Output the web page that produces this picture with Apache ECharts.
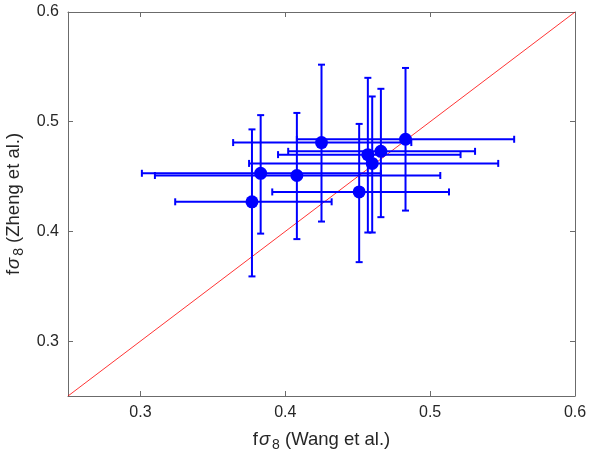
<!DOCTYPE html>
<html>
<head>
<meta charset="utf-8">
<script src="https://cdn.jsdelivr.net/npm/echarts@6/dist/echarts.min.js"></script>
<style>html,body{margin:0;padding:0;background:#fff}#c{width:589px;height:450px}</style>
</head>
<body>
<div id="c"></div>
<script>
// Wang et al. fσ8 (x) with horizontal error range
var wang    = [0.377, 0.383, 0.408, 0.425, 0.451, 0.457, 0.460, 0.466, 0.483];
var wangLo  = [0.324, 0.301, 0.310, 0.364, 0.391, 0.395, 0.375, 0.402, 0.408];
var wangHi  = [0.432, 0.466, 0.507, 0.487, 0.513, 0.521, 0.547, 0.531, 0.558];
// Zheng et al. fσ8 (y) with vertical error range
var zheng   = [0.427, 0.453, 0.451, 0.481, 0.436, 0.470, 0.462, 0.473, 0.484];
var zhengLo = [0.359, 0.398, 0.393, 0.409, 0.372, 0.399, 0.399, 0.413, 0.419];
var zhengHi = [0.493, 0.506, 0.508, 0.552, 0.498, 0.540, 0.523, 0.530, 0.549];
var tickValues = [0.3, 0.4, 0.5, 0.6];
var axisRange = [0.25, 0.6];

var errData = wang.map(function (w, i) {
  return [w, zheng[i], wangLo[i], wangHi[i], zhengLo[i], zhengHi[i]];
});
var dotData = wang.map(function (w, i) { return [w, zheng[i]]; });

var blue = '#0000ff';
var frame = '#6b6b6b';
var font = 'Liberation Sans, Arial, Helvetica, sans-serif';

function axisCommon(showLabel, pos) {
  return {
    type: 'value', min: axisRange[0], max: axisRange[1], position: pos,
    axisLine: { show: true, onZero: false, lineStyle: { color: frame, width: 1 } },
    axisTick: { show: true, inside: true, length: 5, customValues: tickValues, lineStyle: { color: frame } },
    axisLabel: { show: showLabel, customValues: tickValues, color: '#262626', fontSize: 16, fontFamily: font,
      formatter: function (v) { return v.toFixed(1); } },
    splitLine: { show: false }
  };
}

var nameRich = {
  n: { fontSize: 18.5, fontFamily: font, color: '#262626' },
  s: { fontSize: 18.5, fontFamily: font, fontStyle: 'italic', color: '#262626', padding: [0, 2, 0, 1] },
  sub: { fontSize: 14, fontFamily: font, color: '#262626', verticalAlign: 'bottom', padding: [10, 0, 0, 0] }
};

var xMain = axisCommon(true, 'bottom');
xMain.name = '{n|f}{s|σ}{sub|8}{n| (Wang et al.)}';
xMain.nameLocation = 'middle';
xMain.nameGap = 32;
xMain.nameTextStyle = { rich: nameRich };
xMain.axisLabel.margin = 9;
var xTop = axisCommon(false, 'top');

var yMain = axisCommon(true, 'left');
yMain.name = '{n|f}{s|σ}{sub|8}{n| (Zheng et al.)}';
yMain.nameLocation = 'middle';
yMain.nameGap = 33;
yMain.nameRotate = 90;
yMain.nameTextStyle = { rich: nameRich };
yMain.axisLabel.margin = 9;
var yRight = axisCommon(false, 'right');

var chart = echarts.init(document.getElementById('c'));
chart.setOption({
  animation: false,
  backgroundColor: '#fff',
  grid: { left: 68, right: 14, top: 12, bottom: 54, containLabel: false, outerBoundsMode: 'none' },
  xAxis: [xMain, xTop],
  yAxis: [yMain, yRight],
  series: [
    {
      type: 'line', data: [[axisRange[0], axisRange[0]], [axisRange[1], axisRange[1]]],
      symbol: 'none', lineStyle: { color: '#ff0000', width: 0.8 }, z: 1, silent: true
    },
    {
      type: 'custom', data: errData, z: 2,
      renderItem: function (params, api) {
        var c = api.coord([api.value(0), api.value(1)]);
        var l = api.coord([api.value(2), api.value(1)]);
        var r = api.coord([api.value(3), api.value(1)]);
        var b = api.coord([api.value(0), api.value(4)]);
        var t = api.coord([api.value(0), api.value(5)]);
        var cap = 3.5;
        var st = { stroke: blue, lineWidth: 2, fill: null };
        function ln(x1, y1, x2, y2) { return { type: 'line', shape: { x1: x1, y1: y1, x2: x2, y2: y2 }, style: st }; }
        return { type: 'group', children: [
          ln(l[0], c[1], r[0], c[1]),
          ln(l[0], c[1] - cap, l[0], c[1] + cap),
          ln(r[0], c[1] - cap, r[0], c[1] + cap),
          ln(c[0], b[1], c[0], t[1]),
          ln(c[0] - cap, b[1], c[0] + cap, b[1]),
          ln(c[0] - cap, t[1], c[0] + cap, t[1])
        ]};
      }
    },
    {
      type: 'scatter', data: dotData, symbol: 'circle', symbolSize: 13, z: 3,
      itemStyle: { color: blue, opacity: 1 }
    }
  ]
});
</script>
</body>
</html>
